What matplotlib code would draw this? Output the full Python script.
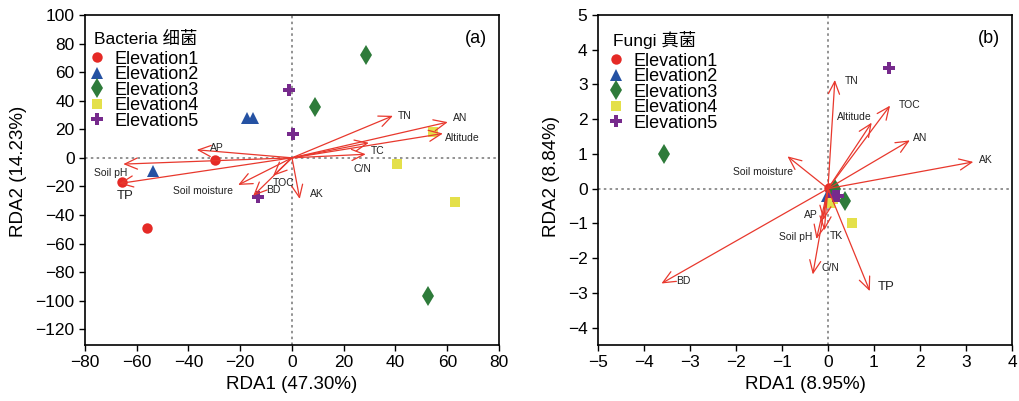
import matplotlib
matplotlib.use('Agg')
import matplotlib.pyplot as plt

plt.rcParams['font.family'] = ['Liberation Sans', 'Noto Sans CJK SC', 'DejaVu Sans']

# ---- sample scores (site points) ----
groups = ['Elevation1', 'Elevation2', 'Elevation3', 'Elevation4', 'Elevation5']

bac_x = [[-29.7, -65.6, -55.9],
         [-17.5, -15.2, -53.7],
         [28.6, 8.8, 52.5],
         [54.5, 40.5, 63.0],
         [-1.2, 0.3, -13.0]]
bac_y = [[-1.4, -17.0, -49.0],
         [28.0, 28.0, -9.0],
         [72.0, 35.7, -96.5],
         [18.0, -4.4, -31.0],
         [47.5, 16.6, -27.7]]

fun_x = [[0.02, 0.05, 0.08],
         [-0.02, 0.05, 0.10],
         [-3.56, 0.15, 0.37],
         [0.53, 0.04, 0.10],
         [1.33, 0.13, 0.22]]
fun_y = [[0.02, -0.05, 0.0],
         [-0.22, -0.25, -0.20],
         [1.01, -0.02, -0.36],
         [-1.0, -0.42, -0.30],
         [3.47, -0.22, -0.20]]

# ---- environmental factor loadings (arrows) ----
bac_env = ['TN', 'AN', 'Altitude', 'TC', 'C/N', 'AP', 'Soil pH', 'TP',
           'Soil moisture', 'BD', 'TOC', 'AK']
bac_rda1 = [39.0, 60.2, 58.3, 29.7, 28.5, -36.8, -65.2, -66.8, -20.8, -15.0, -7.3, 3.0]
bac_rda2 = [29.4, 25.0, 17.0, 10.5, 2.5, 5.6, -4.4, -18.0, -19.0, -26.6, -12.6, -28.8]

fun_env = ['TN', 'TOC', 'Altitude', 'AN', 'AK', 'Soil moisture', 'AP', 'TK',
           'Soil pH', 'C/N', 'BD', 'TP']
fun_rda1 = [0.15, 1.35, 0.95, 1.78, 3.16, -0.88, -0.10, -0.08, -0.25, -0.33, -3.62, 0.91]
fun_rda2 = [3.13, 2.39, 1.90, 1.39, 0.77, 0.93, -0.90, -1.20, -1.45, -2.47, -2.73, -2.95]

# label offsets from arrow tips (pixels)
bac_off = [(12, 0), (12, 4), (20, -4), (9, -8), (-3, -15), (20, 2), (-13, -9),
           (6, -12), (-35, -6), (20, 6), (11, -7), (17, 5)]
fun_off = [(17, -1), (20, 1), (-17, 6), (10, 2), (13, 2), (-24, -16), (-13, 5),
           (12, -6), (-21, 2), (18, 6), (22, 2), (16, 4)]

markers = ['o', '^', 'd', 's', 'P']
colors = ['#e52a26', '#2552a3', '#2e7b3a', '#e4e04a', '#762a8c']
msizes = [7.5, 8, 10, 7, 9]
arrow_red = '#e8382d'


def draw_panel(ax, xs, ys, env, r1, r2, offs, title, tag, leg_x):
    ax.axhline(0, color='#808080', lw=1.2, ls=(0, (1.5, 2)), zorder=1)
    ax.axvline(0, color='#808080', lw=1.2, ls=(0, (1.5, 2)), zorder=1)
    for i, g in enumerate(groups):
        ax.plot(xs[i], ys[i], ls='none', marker=markers[i], color=colors[i],
                markersize=msizes[i], markeredgewidth=0, label=g, zorder=3)
    for name, a, b, off in zip(env, r1, r2, offs):
        ax.annotate('', xy=(a, b), xytext=(0, 0),
                    arrowprops=dict(arrowstyle='->,head_length=0.9,head_width=0.4',
                                    color=arrow_red, lw=0.9, shrinkA=0, shrinkB=0,
                                    mutation_scale=10), zorder=4)
        fs = 9.5 if name == 'TP' else 7.5
        ax.annotate(name, xy=(a, b), xytext=off, textcoords='offset pixels',
                    ha='center', va='center', fontsize=fs, color='#222222', zorder=5)
    leg = ax.legend(loc='upper left', bbox_to_anchor=(leg_x, 0.979), title=title,
                    frameon=False, fontsize=13, title_fontsize=12.5,
                    labelspacing=-0.08, handletextpad=0.85, handlelength=0.3,
                    borderaxespad=0.2, borderpad=0.3)
    leg._legend_box.align = 'left'
    leg._legend_box.sep = 2.6
    ax.text(0.97, 0.93, tag, transform=ax.transAxes, ha='right', va='center',
            fontsize=13)
    ax.tick_params(direction='out', length=4, width=1, labelsize=12.5)
    for s in ax.spines.values():
        s.set_linewidth(1.2)


fig = plt.figure(figsize=(10.19, 4.01), dpi=100)
ax1 = fig.add_axes([0.0834, 0.1397, 0.4063, 0.823])
ax2 = fig.add_axes([0.5868, 0.1397, 0.4063, 0.823])

draw_panel(ax1, bac_x, bac_y, bac_env, bac_rda1, bac_rda2, bac_off,
           'Bacteria 细菌', '(a)', 0.0)
ax1.set_xlim(-80, 80)
ax1.set_ylim(-131, 100)
ax1.set_xticks(range(-80, 81, 20))
ax1.set_yticks(range(-120, 101, 20))
ax1.set_xlabel('RDA1 (47.30%)', fontsize=13.5)
ax1.set_ylabel('RDA2 (14.23%)', fontsize=13.5)
ax1.xaxis.set_label_coords(0.5, -0.095)
ax1.yaxis.set_label_coords(-0.14, 0.527)

draw_panel(ax2, fun_x, fun_y, fun_env, fun_rda1, fun_rda2, fun_off,
           'Fungi 真菌', '(b)', 0.0145)
ax2.set_xlim(-5, 4)
ax2.set_ylim(-4.5, 5)
ax2.set_xticks(range(-5, 5))
ax2.set_yticks(range(-4, 6))
ax2.set_xlabel('RDA1 (8.95%)', fontsize=13.5)
ax2.set_ylabel('RDA2 (8.84%)', fontsize=13.5)
ax2.xaxis.set_label_coords(0.5, -0.095)
ax2.yaxis.set_label_coords(-0.092, 0.512)

fig.savefig('out.png', dpi=100)
